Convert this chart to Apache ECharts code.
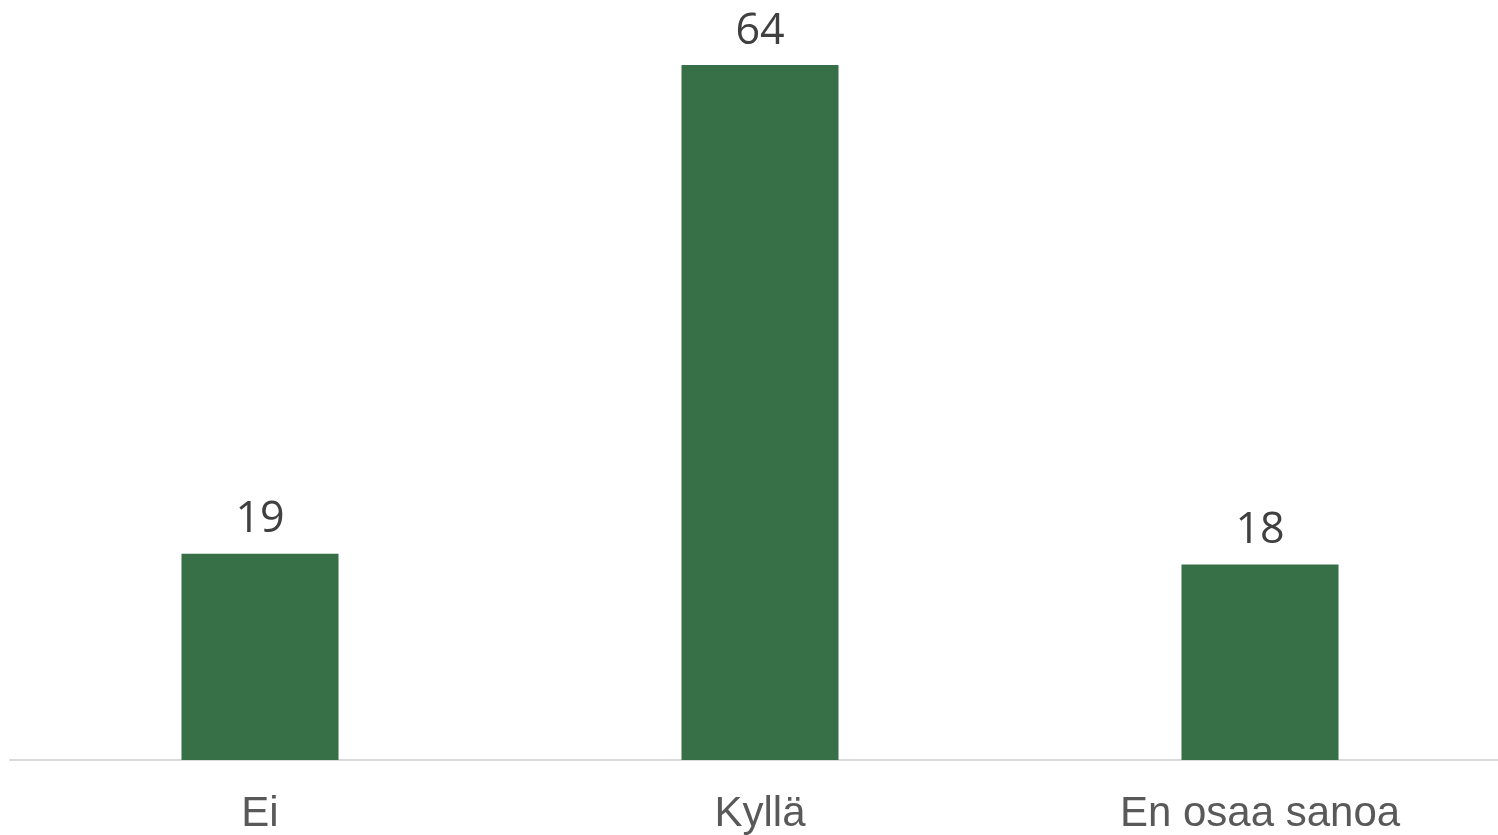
<!DOCTYPE html>
<html>
<head>
<meta charset="utf-8">
<script src="https://cdn.jsdelivr.net/npm/echarts@6/dist/echarts.min.js"></script>
<style>html,body{margin:0;padding:0;background:#fff;overflow:hidden;width:1498px;height:835px;}#c{width:1510px;height:835px;}</style>
</head>
<body>
<div id="c"></div>
<script>
const categories = ['Ei', 'Kyllä', 'En osaa sanoa'];
const values = [19, 64, 18];

const chart = echarts.init(document.getElementById('c'), null, {renderer: 'canvas'});
chart.setOption({
  animation: false,
  backgroundColor: '#ffffff',
  grid: {left: 10, right: 0, top: 65, bottom: 72, containLabel: false},
  xAxis: {
    type: 'category',
    data: categories,
    axisLine: {show: true, lineStyle: {color: '#d9d9d9', width: 2}},
    axisTick: {show: false},
    axisLabel: {color: '#595959', fontSize: 42, fontFamily: 'Liberation Sans, Arial, sans-serif', margin: 33}
  },
  yAxis: {
    type: 'value',
    min: 0,
    max: 64,
    show: false,
    splitLine: {show: false}
  },
  series: [{
    type: 'bar',
    data: values,
    barWidth: 157,
    itemStyle: {color: '#376f47'},
    label: {show: true, position: 'top', distance: 12, color: '#404040', fontSize: 43, fontFamily: 'Open Sans, sans-serif'}
  }]
});
</script>
</body>
</html>
